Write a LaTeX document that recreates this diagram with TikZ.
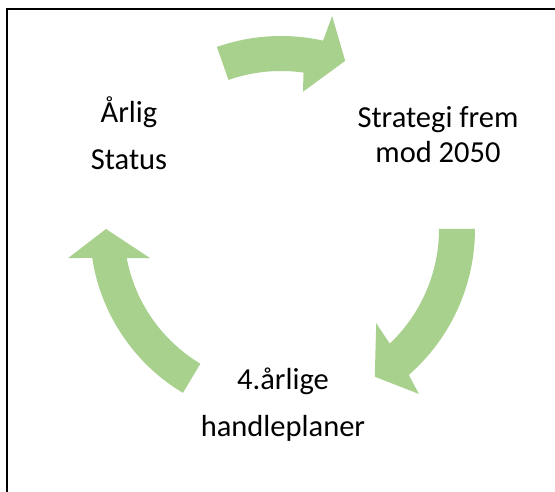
\documentclass[tikz,border=0pt]{standalone}
\usepackage{fontspec}
\setmainfont{Carlito}
\definecolor{arrowgreen}{HTML}{A9D18E}
\tikzset{
  cyclearrow/.style={fill=arrowgreen, draw=none},
  lbl/.style={align=center, anchor=base, inner sep=0pt, font=\fontsize{30.5}{47}\selectfont},
}
\begin{document}
\begin{tikzpicture}[x=1pt,y=1pt]
\useasboundingbox (0,0) rectangle (555,492);
\clip (0,0) rectangle (555,492);
\fill[white] (0,0) rectangle (555,492);
\draw[line width=2pt] (7,-20) -- (7,482.7) -- (580,482.7);
\coordinate (C) at (281,263);
% top arrow
\path[cyclearrow] ([shift={(C)}]109.4:193) arc[start angle=109.4, end angle=77.4, radius=193]
  -- ([shift={(C)}]76.5:219) -- ([shift={(C)}]69.1:180) -- ([shift={(C)}]80.9:139)
  -- ([shift={(C)}]81.8:158) arc[start angle=81.8, end angle=109.4, radius=158] -- cycle;
% right arrow
\path[cyclearrow] ([shift={(C)}]0:194) arc[start angle=0, end angle=-48.8, radius=194]
  -- ([shift={(C)}]-50.1:215) -- ([shift={(C)}]-57.6:175) -- ([shift={(C)}]-44.7:134)
  -- ([shift={(C)}]-46.5:158) arc[start angle=-46.5, end angle=0, radius=158] -- cycle;
% left arrow
\path[cyclearrow] ([shift={(C)}]-120.9:191) arc[start angle=-120.9, end angle=-171.3, radius=191]
  -- ([shift={(C)}]-172.2:215) -- ([shift={(C)}]-180:175) -- ([shift={(C)}]-167.4:134)
  -- ([shift={(C)}]-169.3:157) arc[start angle=-169.3, end angle=-120.9, radius=157] -- cycle;
\node[lbl] (status) at (129,322) {Årlig\\Status};
\node[lbl, font=\fontsize{30.5}{35}\selectfont] (strategi) at (438,329) {Strategi frem\\mod 2050};
\node[lbl] (handle) at (283,55) {4.årlige\\handleplaner};
\end{tikzpicture}
\end{document}
